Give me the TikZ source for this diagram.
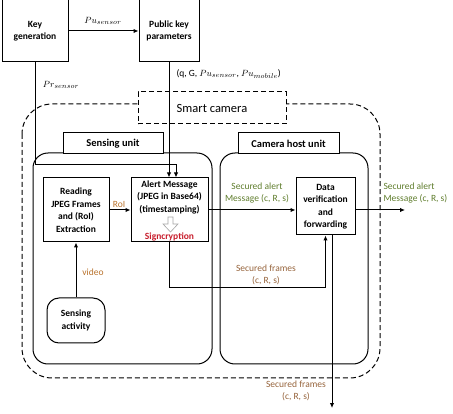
\documentclass[tikz,border=0pt]{standalone}
\usepackage{fontspec}
\setmainfont{Carlito}
\usetikzlibrary{arrows.meta}

\definecolor{secgreen}{RGB}{95,125,45}
\definecolor{secbrown}{RGB}{150,100,60}
\definecolor{roiorange}{RGB}{185,115,45}
\definecolor{signred}{RGB}{200,30,45}

\tikzset{
  blk/.style={draw,line width=1pt,fill=white,align=center,inner sep=1pt,font=\bfseries\fontsize{9.5}{12.5}\selectfont},
  unitlbl/.style={draw,line width=1pt,fill=white,minimum height=21pt,inner sep=0pt,font=\bfseries\fontsize{10.5}{12}\selectfont},
  unitbox/.style={draw,line width=1pt,rounded corners=15pt,inner sep=0pt},
  lbl/.style={align=center,font=\fontsize{9.5}{12.5}\selectfont},
  arr/.style={line width=1pt,-{Latex[length=5pt,width=4.5pt]}},
}

\begin{document}
\begin{tikzpicture}[x=1pt,y=-1pt]
\useasboundingbox (0,0) rectangle (453,414);

	%SMART CAMERA FRAME
	\draw[line width=1pt,dash pattern=on 5pt off 3pt,rounded corners=30pt] (22,104) rectangle (380,378);
	\node[draw,line width=1pt,dash pattern=on 5pt off 3pt,fill=white,minimum width=148pt,minimum height=32pt,font=\fontsize{12.5}{14}\selectfont] (smartcam) at (212,108) {Smart camera};

	%UNITS
	\node[unitbox,minimum width=179pt,minimum height=211pt] (sensing) at (122.5,258.5) {};
	\node[unitbox,minimum width=148pt,minimum height=211pt] (host) at (294,258.5) {};
	\node[unitlbl,minimum width=100pt] (sensinglbl) at (113,143.5) {Sensing unit};
	\node[unitlbl,minimum width=101pt] (hostlbl) at (288.5,143.5) {Camera host unit};

	%BLOCKS
	\node[blk,minimum width=66pt,minimum height=62pt] (keygen) at (35,31) {Key\\generation};
	\node[blk,minimum width=60pt,minimum height=62pt] (pubkey) at (169,31) {Public key\\parameters};
	\node[blk,minimum width=66pt,minimum height=64pt] (reading) at (76,210) {Reading\\JPEG Frames\\and (RoI)\\Extraction};
	\node[blk,minimum width=77pt,minimum height=64pt] (alert) at (169.5,210) {};
	\node[blk,draw=none,fill=none,anchor=north] (alerttxt) at (169.5,179) {Alert Message\\(JPEG in Base64)\\(timestamping)};
	\node[lbl,font=\bfseries\fontsize{9.5}{12}\selectfont,text=signred] (signcr) at (169.5,236.5) {Signcryption};
	\node[blk,minimum width=59pt,minimum height=57pt] (dataver) at (325.5,206.5) {Data\\verification\\and\\forwarding};
	\node[blk,rounded corners=12pt,minimum width=58pt,minimum height=45pt] (activity) at (76,320.5) {Sensing\\activity};

	%HOLLOW ARROW
	\draw[gray!70,semithick,fill=white] (168,217)--(173,217)--(173,224)--(178,224)--(170.5,232)--(163,224)--(168,224)--cycle;

	%CONNECTORS
	\coordinate (prturn) at (176,165);
	\coordinate (alertout) at (405,210);
	\coordinate (framesout) at (332,408);
	\draw[arr] (keygen) -- (pubkey);
	\draw[arr] (keygen.south) |- (prturn) -- (prturn |- alert.north);
	\draw[arr] (pubkey.south) -- (pubkey.south |- alert.north);
	\draw[arr] (reading.east |- alert.west) -- (alert.west);
	\draw[arr] (alert.east) -- (alert.east -| dataver.west);
	\draw[arr] (dataver.east |- alertout) -- (alertout);
	\draw[arr] (alert.south) -- ++(0,45) -| (dataver.south);
	\draw[arr] (dataver.south -| framesout) -- (framesout);
	\draw[arr] (activity) -- (reading);

	%LABELS
	\node[lbl] (pulbl) at (103,21) {$Pu_{sensor}$};
	\node[lbl] (prlbl) at (61,85) {$Pr_{sensor}$};
	\node[lbl,anchor=west] (paramlbl) at (173,74) {(q, G, $Pu_{sensor}$, $Pu_{mobile}$)};
	\node[lbl,text=roiorange] (roilbl) at (119,204) {RoI};
	\node[lbl,text=secgreen] (seclbl) at (257,193) {Secured alert\\Message (c, R, s)};
	\node[lbl,text=secgreen,align=left,anchor=west] (secoutlbl) at (380,193) {Secured alert\\Message (c, R, s)};
	\node[lbl,text=secbrown] (frlbl) at (266,275) {Secured frames\\(c, R, s)};
	\node[lbl,text=secbrown] (froutlbl) at (296,391) {Secured frames\\(c, R, s)};
	\node[lbl,text=roiorange] (videolbl) at (93,272) {video};
\end{tikzpicture}
\end{document}
